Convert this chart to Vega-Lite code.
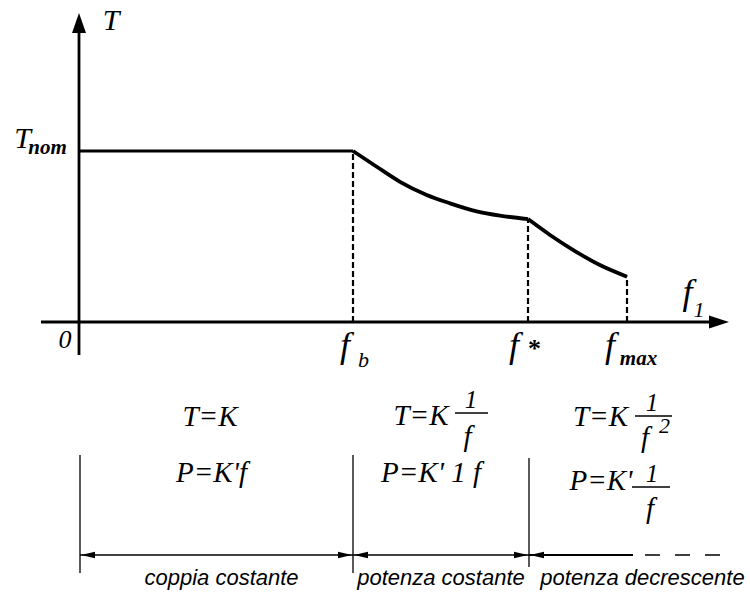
{
  "$schema": "https://vega.github.io/schema/vega-lite/v6.json",
  "width": 750,
  "height": 597,
  "autosize": "none",
  "padding": 0,
  "background": "white",
  "config": {"view": {"stroke": null}},
  "datasets": {
    "axes": [
      {"f": 0, "T": -0.19298, "f2": 0, "T2": 1.72},
      {"f": -0.13869, "T": 0, "f2": 2.31, "T2": 0},
      {"f": 0, "T": 1, "f2": 1, "T2": 1}
    ],
    "curve": [
      {"seg": "a", "f": 1.0, "T": 1.0},
      {"seg": "a", "f": 1.0865, "T": 0.908},
      {"seg": "a", "f": 1.1715, "T": 0.82},
      {"seg": "a", "f": 1.269, "T": 0.743},
      {"seg": "a", "f": 1.354, "T": 0.694},
      {"seg": "a", "f": 1.4515, "T": 0.647},
      {"seg": "a", "f": 1.5365, "T": 0.622},
      {"seg": "a", "f": 1.6387, "T": 0.602},
      {"seg": "b", "f": 1.6387, "T": 0.602},
      {"seg": "b", "f": 1.719, "T": 0.509},
      {"seg": "b", "f": 1.804, "T": 0.421},
      {"seg": "b", "f": 1.901, "T": 0.333},
      {"seg": "b", "f": 2.0, "T": 0.265}
    ],
    "dashes": [
      {"f": 1.0, "T": 0, "T2": 1.0},
      {"f": 1.6387, "T": 0, "T2": 0.602},
      {"f": 2.0, "T": 0, "T2": 0.265}
    ],
    "thin": [
      {"f": 0.00365, "T": -0.77778, "f2": 0.00365, "T2": -1.46784},
      {"f": 1.0, "T": -0.77778, "f2": 1.0, "T2": -1.46784},
      {"f": 1.64234, "T": -0.79532, "f2": 1.64234, "T2": -1.43275},
      {"f": 0.00365, "T": -1.36257, "f2": 1.0, "T2": -1.36257},
      {"f": 1.0, "T": -1.36257, "f2": 1.64234, "T2": -1.36257},
      {"f": 1.37226, "T": -0.53216, "f2": 1.4927, "T2": -0.53216},
      {"f": 2.0292, "T": -0.54971, "f2": 2.16423, "T2": -0.54971},
      {"f": 2.01825, "T": -0.96491, "f2": 2.15693, "T2": -0.96491}
    ],
    "solidExt": [
      {"f": 1.64234, "T": -1.36257, "f2": 2.0219, "T2": -1.36257}
    ],
    "dashExt": [
      {"f": 2.06569, "T": -1.36257, "f2": 2.34672, "T2": -1.36257}
    ],
    "arrUp": [{"f": 0, "T": 1.74854}],
    "arrRight": [{"f": 2.33577, "T": 0}],
    "arrL": [
      {"f": 0.03285, "T": -1.36257},
      {"f": 1.0292, "T": -1.36257},
      {"f": 1.67153, "T": -1.36257}
    ],
    "arrR": [
      {"f": 0.9708, "T": -1.36257},
      {"f": 1.61314, "T": -1.36257}
    ],
    "bigLetters": [
      {"label": "T", "f": 0.11679, "T": 1.7076},
      {"label": "T", "f": -0.2062, "T": 1.01754}
    ],
    "fLetters": [
      {"label": "f", "f": 0.9708, "T": -0.20468},
      {"label": "f", "f": 1.58759, "T": -0.20468},
      {"label": "f", "f": 1.93796, "T": -0.20468},
      {"label": "f", "f": 2.2208, "T": 0.10526}
    ],
    "zero": [{"label": "0", "f": -0.05109, "T": -0.15205}],
    "boldSubs": [
      {"label": "nom", "f": -0.11496, "T": 0.98246},
      {"label": "max", "f": 2.04197, "T": -0.25146}
    ],
    "subs": [
      {"label": "b", "f": 1.03832, "T": -0.26316},
      {"label": "1", "f": 2.26277, "T": 0.02924},
      {"label": "2", "f": 2.13686, "T": -0.64912}
    ],
    "star": [{"label": "*", "f": 1.66241, "T": -0.16}],
    "formulas": [
      {"label": "T=K", "f": 0.4781, "T": -0.60819},
      {"label": "P=K'f", "f": 0.48358, "T": -0.93567},
      {"label": "T=K", "f": 1.24818, "T": -0.60234},
      {"label": "f", "f": 1.41788, "T": -0.72515},
      {"label": "P=K' 1 f", "f": 1.28467, "T": -0.93567},
      {"label": "T=K", "f": 1.90328, "T": -0.60819},
      {"label": "f", "f": 2.06569, "T": -0.73099},
      {"label": "P=K'", "f": 1.90511, "T": -0.98246},
      {"label": "f", "f": 2.08394, "T": -1.1462}
    ],
    "numerators": [
      {"label": "1", "f": 1.43066, "T": -0.50292},
      {"label": "1", "f": 2.09124, "T": -0.52047},
      {"label": "1", "f": 2.09124, "T": -0.93567}
    ],
    "regions": [
      {"label": "coppia costante", "f": 0.52007, "T": -1.53801},
      {"label": "potenza costante", "f": 1.32117, "T": -1.53801},
      {"label": "potenza decrescente", "f": 2.05657, "T": -1.53801}
    ]
  },
  "encoding": {
    "x": {"field": "f", "type": "quantitative", "scale": {"domain": [-0.28832, 2.44891], "nice": false, "zero": false}, "axis": null},
    "y": {"field": "T", "type": "quantitative", "scale": {"domain": [-1.60819, 1.88304], "nice": false, "zero": false}, "axis": null}
  },
  "layer": [
    {"data": {"name": "axes"}, "mark": {"type": "rule", "color": "black", "strokeWidth": 2.8},
     "encoding": {"x2": {"field": "f2"}, "y2": {"field": "T2"}}},
    {"data": {"name": "curve"}, "mark": {"type": "line", "color": "black", "strokeWidth": 3.8, "interpolate": "monotone"},
     "encoding": {"detail": {"field": "seg"}}},
    {"data": {"name": "dashes"}, "mark": {"type": "rule", "color": "black", "strokeWidth": 2.2, "strokeDash": [6, 3]},
     "encoding": {"y2": {"field": "T2"}}},
    {"data": {"name": "thin"}, "mark": {"type": "rule", "color": "black", "strokeWidth": 1.3},
     "encoding": {"x2": {"field": "f2"}, "y2": {"field": "T2"}}},
    {"data": {"name": "solidExt"}, "mark": {"type": "rule", "color": "black", "strokeWidth": 2.2},
     "encoding": {"x2": {"field": "f2"}, "y2": {"field": "T2"}}},
    {"data": {"name": "dashExt"}, "mark": {"type": "rule", "color": "black", "strokeWidth": 1.6, "strokeDash": [15, 15]},
     "encoding": {"x2": {"field": "f2"}, "y2": {"field": "T2"}}},
    {"data": {"name": "arrUp"}, "mark": {"type": "point", "filled": true, "color": "black", "opacity": 1, "size": 400, "shape": "M0,-1L0.7,1L-0.7,1Z"}},
    {"data": {"name": "arrRight"}, "mark": {"type": "point", "filled": true, "color": "black", "opacity": 1, "size": 400, "shape": "M1,0L-1,-0.65L-1,0.65Z"}},
    {"data": {"name": "arrL"}, "mark": {"type": "point", "filled": true, "color": "black", "opacity": 1, "size": 196, "shape": "M-1,0L1,-0.45L1,0.45Z"}},
    {"data": {"name": "arrR"}, "mark": {"type": "point", "filled": true, "color": "black", "opacity": 1, "size": 196, "shape": "M1,0L-1,-0.45L-1,0.45Z"}},
    {"data": {"name": "bigLetters"}, "mark": {"type": "text", "font": "Liberation Serif", "fontStyle": "italic", "fontSize": 30, "align": "center", "baseline": "alphabetic", "color": "black"},
     "encoding": {"text": {"field": "label"}}},
    {"data": {"name": "fLetters"}, "mark": {"type": "text", "font": "Liberation Serif", "fontStyle": "italic", "fontSize": 36, "align": "center", "baseline": "alphabetic", "color": "black"},
     "encoding": {"text": {"field": "label"}}},
    {"data": {"name": "zero"}, "mark": {"type": "text", "font": "Liberation Serif", "fontStyle": "italic", "fontSize": 26, "align": "center", "baseline": "alphabetic", "color": "black"},
     "encoding": {"text": {"field": "label"}}},
    {"data": {"name": "boldSubs"}, "mark": {"type": "text", "font": "Liberation Serif", "fontStyle": "italic", "fontWeight": "bold", "fontSize": 21, "align": "center", "baseline": "alphabetic", "color": "black"},
     "encoding": {"text": {"field": "label"}}},
    {"data": {"name": "subs"}, "mark": {"type": "text", "font": "Liberation Serif", "fontStyle": "italic", "fontSize": 22, "align": "center", "baseline": "alphabetic", "color": "black"},
     "encoding": {"text": {"field": "label"}}},
    {"data": {"name": "star"}, "mark": {"type": "text", "font": "Liberation Serif", "fontWeight": "bold", "fontSize": 26, "align": "center", "baseline": "middle", "color": "black"},
     "encoding": {"text": {"field": "label"}}},
    {"data": {"name": "formulas"}, "mark": {"type": "text", "font": "Liberation Serif", "fontStyle": "italic", "fontSize": 29, "align": "center", "baseline": "alphabetic", "color": "black"},
     "encoding": {"text": {"field": "label"}}},
    {"data": {"name": "numerators"}, "mark": {"type": "text", "font": "Liberation Serif", "fontStyle": "italic", "fontSize": 25, "align": "center", "baseline": "alphabetic", "color": "black"},
     "encoding": {"text": {"field": "label"}}},
    {"data": {"name": "regions"}, "mark": {"type": "text", "font": "Liberation Sans", "fontStyle": "italic", "fontSize": 22, "align": "center", "baseline": "alphabetic", "color": "black"},
     "encoding": {"text": {"field": "label"}}}
  ]
}
